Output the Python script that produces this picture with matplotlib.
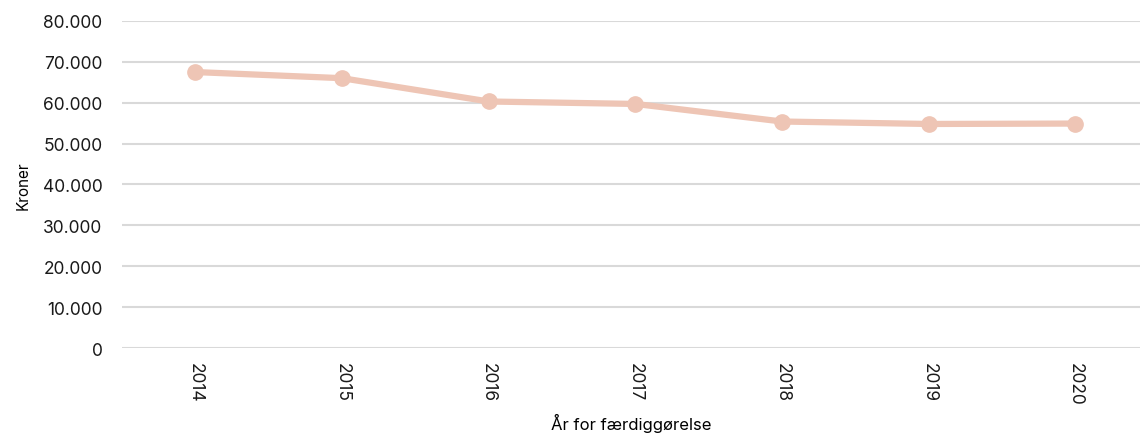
import matplotlib
matplotlib.use("Agg")
import matplotlib.pyplot as plt
from matplotlib.ticker import FuncFormatter

years = ["2014", "2015", "2016", "2017", "2018", "2019", "2020"]
kroner = [67500, 66000, 60300, 59700, 55400, 54800, 54900]

plt.rcParams["font.family"] = ["Inter", "DejaVu Sans"]

fig = plt.figure(figsize=(11.4, 4.39), dpi=100)
ax = fig.add_axes([0.107, 0.205, 0.893, 0.745])

x = list(range(len(years)))
ax.plot(x, kroner, color="#EEC5B5", linewidth=4.5, marker="o",
        markersize=11, solid_capstyle="round", zorder=3)

ax.set_ylim(0, 80000)
ax.set_yticks(range(0, 80001, 10000))
ax.yaxis.set_major_formatter(
    FuncFormatter(lambda v, _: f"{int(v):,}".replace(",", ".")))
ax.set_xlim(-0.5, 6.44)
ax.set_xticks(x)
ax.set_xticklabels(years, rotation=270)

ax.grid(axis="y", color="#D9D9D9", linewidth=1.5, zorder=0)
for s in ax.spines.values():
    s.set_visible(False)
ax.tick_params(axis="both", length=0, labelsize=12.5, colors="#1a1a1a")
ax.tick_params(axis="y", pad=14)
ax.tick_params(axis="x", pad=10)

ax.set_ylabel("Kroner", fontsize=11)
ax.yaxis.set_label_coords(-0.09, 0.5)
ax.set_xlabel("År for færdiggørelse", fontsize=12)
ax.xaxis.set_label_coords(0.5, -0.2)

fig.savefig("out.png", dpi=100)
